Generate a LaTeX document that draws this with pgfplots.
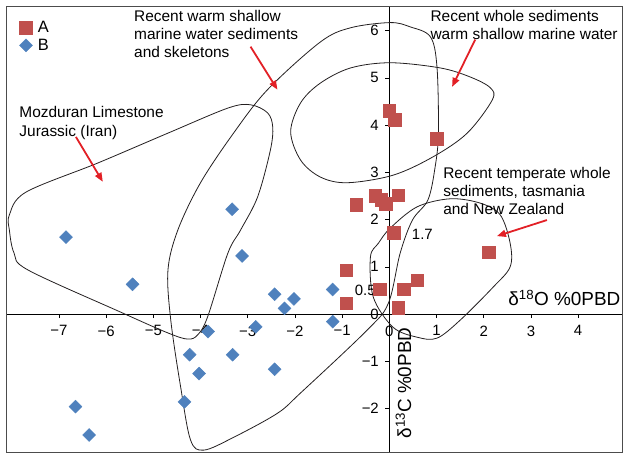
\documentclass[border=0pt]{standalone}
\usepackage{pgfplots}
\pgfplotsset{compat=1.18}
\usepackage{fontspec}
\setmainfont{Liberation Sans}
\usetikzlibrary{arrows.meta}
\definecolor{sqred}{RGB}{192,80,77}
\definecolor{dmblue}{RGB}{79,129,189}
\definecolor{arrred}{RGB}{226,32,38}
\definecolor{curve}{RGB}{35,31,32}
\begin{document}
\begin{tikzpicture}
\begin{axis}[
  scale only axis, width=615bp, height=445bp,
  xmin=-8.1, xmax=4.93, ymin=-2.92, ymax=6.5,
  axis lines=middle,
  axis line style={-, black, line width=0.8bp},
  tick align=outside, major tick length=4bp,
  tick style={black, line width=0.6bp},
  xtick={-7,...,4}, ytick={-2,...,6},
  xticklabels={−7,−6,−5,−4,−3,−2,−1,0,1,2,3,4},
  yticklabels={−2,−1,0,1,2,3,4,5,6},
  hide obscured x ticks=false, hide obscured y ticks=false,
  ticklabel style={font=\fontsize{15}{18}\selectfont},
  xticklabel style={yshift=-4bp},
  yticklabel style={xshift=-3bp},
  clip=false,
  legend style={at={(axis cs:-7.84,6.245)}, anchor=north west, draw=none, fill=none,
    font=\fontsize{16.5}{18}\selectfont, row sep=1bp, inner sep=0pt},
  legend cell align=left,
]
\addplot[only marks, mark=square*, mark size=6.3bp, color=sqred] coordinates {
(0.0,4.30) (0.11,4.11) (1.01,3.71) (-0.70,2.31) (-0.30,2.50) (-0.17,2.42)
(-0.08,2.33) (0.19,2.52) (0.09,1.72) (2.11,1.31) (-0.91,0.93) (0.59,0.72)
(-0.21,0.53) (0.30,0.53) (-0.91,0.23) (0.19,0.13)
};
\addlegendentry{\hspace{3.5bp}A}
\addplot[only marks, mark=square*, mark size=4.6bp, mark options={rotate=45}, color=dmblue] coordinates {
(-6.85,1.63) (-5.44,0.63) (-3.33,2.22) (-3.12,1.23) (-2.43,0.42) (-2.02,0.32)
(-2.22,0.12) (-1.20,0.52) (-1.20,-0.16) (-3.84,-0.37) (-2.83,-0.27) (-4.23,-0.86)
(-3.32,-0.86) (-4.03,-1.26) (-2.43,-1.17) (-4.34,-1.86) (-6.65,-1.96) (-6.36,-2.56)
};
\addlegendentry{\hspace{3.5bp}B}

% frame
\draw[gray!60!black, line width=1bp] (rel axis cs:0,0) rectangle (rel axis cs:1,1);

% outlines
\draw[curve, line width=0.8bp] plot[smooth cycle, tension=0.55] coordinates {
(-8.05,2.10) (-7.70,2.58) (-6.17,3.20) (-4.69,3.83) (-3.42,4.36) (-2.94,4.43)
(-2.58,4.26) (-2.47,3.96) (-2.52,3.47) (-2.79,2.48) (-3.15,1.78) (-3.42,1.29)
(-3.85,-0.06) (-4.06,-0.44) (-4.27,-0.53) (-4.69,-0.40) (-5.69,0.04) (-7.65,0.93)
(-7.95,1.29) (-8.05,1.78)
};
\draw[curve, line width=0.8bp] plot[smooth cycle, tension=0.55] coordinates {
(0.02,6.17) (0.44,6.08) (0.87,5.87) (1.01,5.23) (1.04,3.83) (0.97,3.11)
(0.82,2.42) (0.49,1.99) (0.23,1.29) (-0.02,0.23) (-0.47,-0.34) (-1.88,-1.67)
(-2.37,-2.10) (-3.30,-2.61) (-3.93,-2.88) (-4.21,-2.67) (-4.42,-1.55) (-4.63,-0.13)
(-4.69,0.93) (-4.48,1.78) (-4.00,2.78) (-3.30,3.83) (-2.58,4.75) (-1.46,5.76)
(-0.82,6.06)
};
\draw[curve, line width=0.8bp] plot[smooth cycle, tension=0.55] coordinates {
(-2.09,3.86) (-1.88,4.47) (-1.46,4.89) (-0.82,5.21) (0.02,5.32) (1.08,5.21)
(1.71,5.02) (2.14,4.79) (2.18,4.53) (1.65,3.83) (0.93,3.33) (0.08,2.94)
(-0.89,2.78) (-1.46,2.90) (-1.88,3.26)
};
\draw[curve, line width=0.8bp] plot[smooth cycle, tension=0.55] coordinates {
(0.02,1.82) (0.59,2.27) (1.29,2.44) (1.92,2.35) (2.35,2.10) (2.56,1.50)
(2.56,1.00) (2.20,0.57) (1.50,-0.13) (1.01,-0.51) (0.59,-0.49) (0.08,-0.28)
(-0.34,0.36) (-0.40,1.21) (-0.23,1.50)
};

% arrows
\draw[arrred, line width=1.8bp, -{Triangle[length=9bp,width=7bp]}] (axis cs:-6.64,3.75) -- (axis cs:-6.07,2.80);
\draw[arrred, line width=1.8bp, -{Triangle[length=9bp,width=7bp]}] (axis cs:-2.94,5.66) -- (axis cs:-2.37,4.75);
\draw[arrred, line width=1.8bp, -{Triangle[length=9bp,width=7bp]}] (axis cs:1.82,5.81) -- (axis cs:1.33,4.81);
\draw[arrred, line width=1.8bp, -{Triangle[length=9bp,width=7bp]}] (axis cs:3.34,1.99) -- (axis cs:2.28,1.65);

% text
\node[anchor=north west, align=left, inner sep=0pt, font=\fontsize{15.5}{18}\selectfont] at (axis cs:-5.41,6.44) {Recent warm shallow\\marine water sediments\\and skeletons};
\node[anchor=north west, align=left, inner sep=0pt, font=\fontsize{15.5}{18}\selectfont] at (axis cs:0.87,6.44) {Recent whole sediments\\warm shallow marine water};
\node[anchor=north west, align=left, inner sep=0pt, font=\fontsize{15.5}{19}\selectfont] at (axis cs:-7.84,4.41) {Mozduran Limestone\\Jurassic (Iran)};
\node[anchor=north west, align=left, inner sep=0pt, font=\fontsize{15.5}{18}\selectfont] at (axis cs:1.14,3.11) {Recent temperate whole\\sediments, tasmania\\and New Zealand};
\node[inner sep=0pt, font=\fontsize{15}{18}\selectfont] at (axis cs:0.70,1.69) {1.7};
\node[inner sep=0pt, font=\fontsize{15}{18}\selectfont] at (axis cs:-0.51,0.51) {0.5};
\node[anchor=east, inner sep=0pt, font=\fontsize{19}{22}\selectfont] at (axis cs:4.9,0.34) {δ\textsuperscript{18}O \%0PBD};
\node[rotate=90, inner sep=0pt, font=\fontsize{19}{22}\selectfont] at (axis cs:0.30,-1.46) {δ\textsuperscript{13}C \%0PBD};
\end{axis}
\path (current axis.south west) ++(-7bp,-2bp) coordinate (bbA);
\path (current axis.north east) ++(1bp,7bp) coordinate (bbB);
\path (bbA) rectangle (bbB);
\end{tikzpicture}
\end{document}
